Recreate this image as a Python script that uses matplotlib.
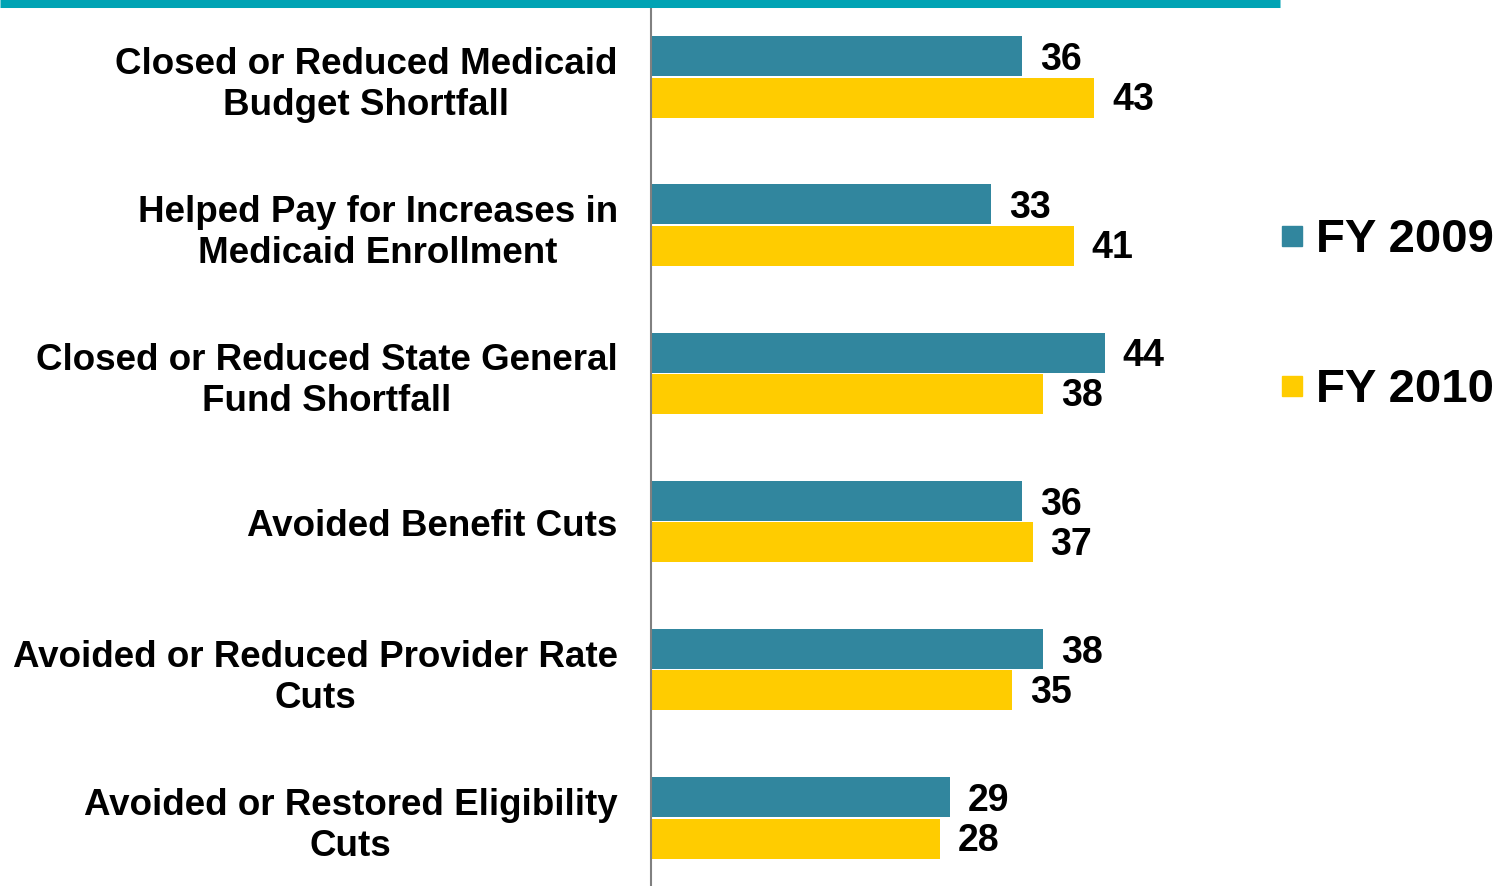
import matplotlib.pyplot as plt
import numpy as np
from matplotlib.lines import Line2D
from matplotlib.patches import Rectangle
from matplotlib.transforms import ScaledTranslation

plt.rcParams['font.family'] = ['Liberation Sans', 'DejaVu Sans']
plt.rcParams['font.weight'] = 'bold'

categories = ["Closed or Reduced Medicaid\nBudget Shortfall",
              "Helped Pay for Increases in\nMedicaid Enrollment",
              "Closed or Reduced State General\nFund Shortfall",
              "Avoided Benefit Cuts",
              "Avoided or Reduced Provider Rate\nCuts",
              "Avoided or Restored Eligibility\nCuts"]
fy2009 = [36, 33, 44, 36, 38, 29]
fy2010 = [43, 41, 38, 37, 35, 28]
series_names = ["FY 2009", "FY 2010"]

teal = '#31869E'
yellow = '#FFCC00'
topline = '#00A3B4'

W, H = 1499, 887
fig = plt.figure(figsize=(W / 100, H / 100), dpi=100)
ax = fig.add_axes([651 / W, 0, (1280 - 651) / W, (887 - 4) / H])

y = np.arange(len(categories))
bh = 0.27
ax.barh(y - bh / 2 - 0.005, fy2009, height=bh, color=teal)
ax.barh(y + bh / 2 + 0.005, fy2010, height=bh, color=yellow)

for i in range(len(categories)):
    ax.annotate(str(fy2009[i]), (fy2009[i], y[i] - bh / 2), xytext=(13, -1.5), textcoords='offset points',
                va='center', ha='left', fontsize=27, fontweight='bold')
    ax.annotate(str(fy2010[i]), (fy2010[i], y[i] + bh / 2), xytext=(13, -1.5), textcoords='offset points',
                va='center', ha='left', fontsize=27, fontweight='bold')

ax.set_xlim(0, 61)
ax.set_ylim(5.46, -0.5)
ax.set_yticks(y)
ax.set_yticklabels(categories, fontsize=26.5, fontweight='bold')
shift = ScaledTranslation(0, 3 / 100, fig.dpi_scale_trans)
for t in ax.get_yticklabels():
    t.set_multialignment('center')
    t.set_linespacing(1.22)
    t.set_transform(t.get_transform() + shift)
ax.tick_params(axis='y', length=0, pad=24)
ax.set_xticks([])
for s in ['top', 'right', 'bottom']:
    ax.spines[s].set_visible(False)
ax.spines['left'].set_color('#808080')
ax.spines['left'].set_linewidth(1.5)

# teal rule along the top of the slide
fig.add_artist(Line2D([0, 1280 / W], [1 - 4 / H, 1 - 4 / H], color=topline, linewidth=6.5,
                      solid_capstyle='butt'))

# legend on the right
leg_y = [237, 387]
leg_c = [teal, yellow]
for ly, lc, name in zip(leg_y, leg_c, series_names):
    fig.add_artist(Rectangle((1282 / W, 1 - (ly + 10) / H), 20 / W, 20 / H, color=lc,
                             transform=fig.transFigure))
    fig.text(1316 / W, 1 - (ly + 3) / H, name, fontsize=34, fontweight='bold', va='center', ha='left')

fig.savefig('out.png', dpi=100)
